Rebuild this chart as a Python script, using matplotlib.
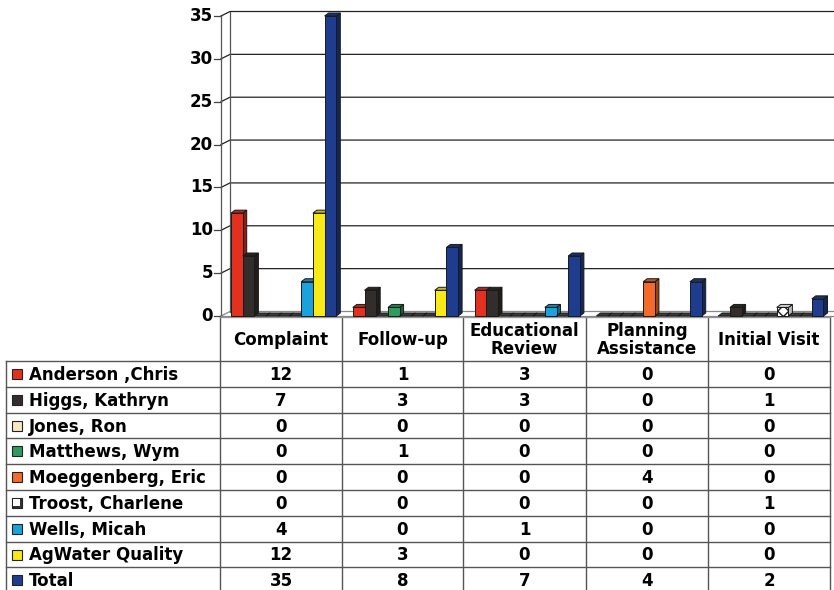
import matplotlib
matplotlib.use("Agg")
import matplotlib.pyplot as plt
from matplotlib.patches import Rectangle, Polygon
import numpy as np

# Visit counts by staff member and visit type
categories = ["Complaint", "Follow-up", "Educational\nReview", "Planning\nAssistance", "Initial Visit"]
staff = ["Anderson ,Chris", "Higgs, Kathryn", "Jones, Ron", "Matthews, Wym",
         "Moeggenberg, Eric", "Troost, Charlene", "Wells, Micah", "AgWater Quality", "Total"]
anderson = [12, 1, 3, 0, 0]
higgs = [7, 3, 3, 0, 1]
jones = [0, 0, 0, 0, 0]
matthews = [0, 1, 0, 0, 0]
moeggenberg = [0, 0, 0, 4, 0]
troost = [0, 0, 0, 0, 1]
wells = [4, 0, 1, 0, 0]
agwater = [12, 3, 0, 0, 0]
total = [35, 8, 7, 4, 2]
series = [anderson, higgs, jones, matthews, moeggenberg, troost, wells, agwater, total]
colors = ["#e2321f", "#332e2c", "#f6e7c4", "#2f9a5c", "#f36b2a", "#ffffff",
          "#1ba2dc", "#f7ea16", "#1f3d8f"]
hatches = [None, None, None, None, None, "xxx", None, None, None]
yticks = [0, 5, 10, 15, 20, 25, 30, 35]

W, H = 834, 590
fig = plt.figure(figsize=(W / 100, H / 100), dpi=100)
fig.patch.set_facecolor("white")
font = dict(family="DejaVu Sans", weight="bold")
fs = 12

# table drawn in pixel coordinates
tab = fig.add_axes([0, 0, 1, 1])
tab.set_xlim(0, W)
tab.set_ylim(H, 0)
tab.axis("off")

# chart axes
x_left, x_right, y_base, y_top = 221, 834, 316, 16
col_px = 121.8
ax = fig.add_axes([x_left / W, (H - y_base) / H, (x_right - x_left) / W, (y_base - y_top) / H])
ax.set_xlim(0, (x_right - x_left) / col_px)
ax.set_ylim(0, 35)
ax.axis("off")
ax.patch.set_alpha(0)

ux = 1 / col_px            # data units per pixel, x
uy = 35 / (y_base - y_top)  # data units per pixel, y
wall_dx, wall_dy = 9 * ux, 4.5 * uy
xmax = ax.get_xlim()[1]

# back wall, gridlines and value axis
for v in yticks:
    c = "#222222" if v else "#888888"
    ax.plot([0, wall_dx, xmax], [v, v + wall_dy, v + wall_dy], color=c, lw=0.9, clip_on=False, zorder=1)
    ax.plot([-7 * ux, 0], [v, v], color="#444444", lw=0.9, clip_on=False)
    ax.text(-8 * ux, v, str(v), ha="right", va="center", fontsize=fs, **font)
ax.plot([0, 0], [0, 35], color="#555555", lw=0.9, clip_on=False)
ax.plot([wall_dx, wall_dx], [wall_dy, 35 + wall_dy], color="#555555", lw=0.9, clip_on=False)
ax.plot([0, xmax], [0, 0], color="#888888", lw=0.9, clip_on=False)

# 3D-looking bars
bar_w = 11.7 * ux
offset = 10 * ux
ddx, ddy = 4 * ux, 3 * uy


def shade(c, f=0.62):
    rgb = np.array(matplotlib.colors.to_rgb(c))
    return tuple(rgb * f)


for c in range(len(categories)):
    for i, vals in enumerate(series):
        h = vals[c]
        x0 = c + offset + i * bar_w
        z = 3 + i * 0.1
        ec = "#1a1a1a"
        side = [(x0 + bar_w, 0), (x0 + bar_w + ddx, ddy), (x0 + bar_w + ddx, h + ddy), (x0 + bar_w, h)]
        top = [(x0, h), (x0 + bar_w, h), (x0 + bar_w + ddx, h + ddy), (x0 + ddx, h + ddy)]
        ax.add_patch(Polygon(side, closed=True, facecolor=shade(colors[i]) if i != 5 else "#bbbbbb",
                             edgecolor=ec, lw=0.7, zorder=z, clip_on=False))
        ax.add_patch(Polygon(top, closed=True, facecolor=shade(colors[i], 0.8) if h else "#3a3a3a",
                             edgecolor=ec, lw=0.7, zorder=z, clip_on=False))
        if h:
            ax.add_patch(Rectangle((x0, 0), bar_w, h, facecolor=colors[i], edgecolor=ec,
                                   hatch=hatches[i], lw=0.7, zorder=z, clip_on=False))

# data table
col_edges = [220, 342, 463, 586, 708, 830]
lab_left = 6
head_top, head_bot = 317, 361
row_h = 25.8
lc = "#555555"
for x in col_edges:
    tab.plot([x, x], [head_top, H], color=lc, lw=1)
tab.plot([lab_left, lab_left], [head_bot, H], color=lc, lw=1)
tab.plot([col_edges[0], col_edges[-1]], [head_top, head_top], color="#999999", lw=1)
for r in range(len(staff) + 1):
    y = head_bot + r * row_h
    tab.plot([lab_left, col_edges[-1]], [y, y], color=lc, lw=1)

for j, name in enumerate(categories):
    cx = (col_edges[j] + col_edges[j + 1]) / 2
    tab.text(cx, (head_top + head_bot) / 2 + 1, name, ha="center", va="center",
             fontsize=fs, linespacing=1.0, **font)

for r, (name, vals) in enumerate(zip(staff, series)):
    cy = head_bot + (r + 0.5) * row_h
    tab.add_patch(Rectangle((12, cy - 5), 10, 10, facecolor=colors[r] if r != 5 else "#333333",
                            edgecolor="#222222", lw=0.8, zorder=3))
    if r == 5:
        tab.add_patch(Rectangle((13.5, cy - 3.5), 7, 7, facecolor="white", edgecolor="white",
                                hatch="xx", lw=0, zorder=4))
    tab.text(29, cy + 1, name, ha="left", va="center", fontsize=fs, **font)
    for j, v in enumerate(vals):
        cx = (col_edges[j] + col_edges[j + 1]) / 2
        tab.text(cx, cy + 1, str(v), ha="center", va="center", fontsize=fs, **font)

fig.savefig("out.png", dpi=100, facecolor="white")
